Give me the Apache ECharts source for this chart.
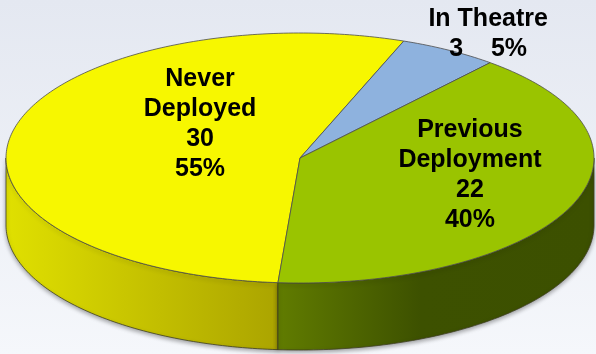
<!DOCTYPE html>
<html><head><meta charset="utf-8">
<script src="https://cdn.jsdelivr.net/npm/echarts@6/dist/echarts.min.js"></script>
<style>html,body{margin:0;padding:0;background:#fff;}#c{width:596px;height:354px;}</style>
</head><body><div id="c"></div>
<script>
// ---- data ----
const categories = ['Never Deployed', 'In Theatre', 'Previous Deployment'];
const values = [30, 3, 22];

// ---- style / layout ----
const topColors = ['#F7F700', '#8EB2DE', '#9AC400'];
const sideStops = [
  [[0, '#E0E000'], [1, '#ABA400']],
  [[0, '#6F8DB5'], [1, '#5A77A0']],
  [[0, '#617C00'], [0.45, '#3D5100'], [1, '#3C5000']]
];
const labelAnchors = [[-0.34, -0.272], [0.64, -0.992], [0.578, 0.136]];
const labelInline = [false, true, false];

const CX = 300, CY = 158, RX = 294, RY = 125, DEPTH = 67, START = 184.3;

const total = values.reduce((a, b) => a + b, 0);
const spans = [];
let acc = START;
values.forEach(v => { const s = v / total * 360; spans.push([acc, acc + s]); acc += s; });

function pt(th, dy) {
  const r = th * Math.PI / 180;
  return [CX + RX * Math.sin(r), CY - RY * Math.cos(r) + (dy || 0)];
}
function arc(a, b, dy) {
  const pts = [];
  const n = Math.max(2, Math.ceil(Math.abs(b - a)));
  for (let i = 0; i <= n; i++) pts.push(pt(a + (b - a) * i / n, dy));
  return pts;
}
function labelText(i) {
  const pct = Math.round(values[i] / total * 100) + '%';
  if (labelInline[i]) return categories[i] + '\n' + values[i] + '    ' + pct;
  return categories[i].replace(' ', '\n') + '\n' + values[i] + '\n' + pct;
}

function renderItem(params, api) {
  const i = params.dataIndex;
  const [a, b] = spans[i];
  const children = [];
  // visible front wall: angles in (90,270) mod 360
  [0, 360].forEach(k => {
    const lo = Math.max(a, 90 + k), hi = Math.min(b, 270 + k);
    if (hi > lo) {
      const poly = arc(lo, hi, 0).concat(arc(hi, lo, DEPTH));
      children.push({
        type: 'polygon', z2: 1,
        shape: { points: poly },
        style: {
          fill: new echarts.graphic.LinearGradient(0, 0, 1, 0,
            sideStops[i].map(s => ({ offset: s[0], color: s[1] }))),
          stroke: '#3f3f22', lineWidth: 0.8,
          shadowBlur: 4, shadowColor: 'rgba(0,0,0,0.35)', shadowOffsetY: 2
        }
      });
    }
  });
  // top face
  const topPts = [[CX, CY]].concat(arc(a, b, 0));
  children.push({
    type: 'polygon', z2: 5,
    shape: { points: topPts },
    style: { fill: topColors[i], stroke: '#4d4d4d', lineWidth: 0.8 }
  });
  // label
  const an = labelAnchors[i];
  children.push({
    type: 'text', z2: 10,
    x: CX + an[0] * RX, y: CY + an[1] * RY,
    style: {
      text: labelText(i), fill: '#000',
      fontFamily: '"Liberation Sans", Arial, sans-serif', fontWeight: 'bold', fontSize: 25,
      lineHeight: 30, align: 'center', verticalAlign: 'middle'
    }
  });
  return { type: 'group', children };
}

const chart = echarts.init(document.getElementById('c'), null, { renderer: 'canvas' });
chart.setOption({
  animation: false,
  backgroundColor: new echarts.graphic.LinearGradient(0, 0, 0, 1, [
    { offset: 0, color: '#E4E8F1' }, { offset: 1, color: '#F5F7FB' }
  ]),
  series: [{
    type: 'custom',
    coordinateSystem: 'none',
    renderItem: renderItem,
    data: values.map((v, i) => ({ name: categories[i], value: v }))
  }]
});
</script>
</body></html>
